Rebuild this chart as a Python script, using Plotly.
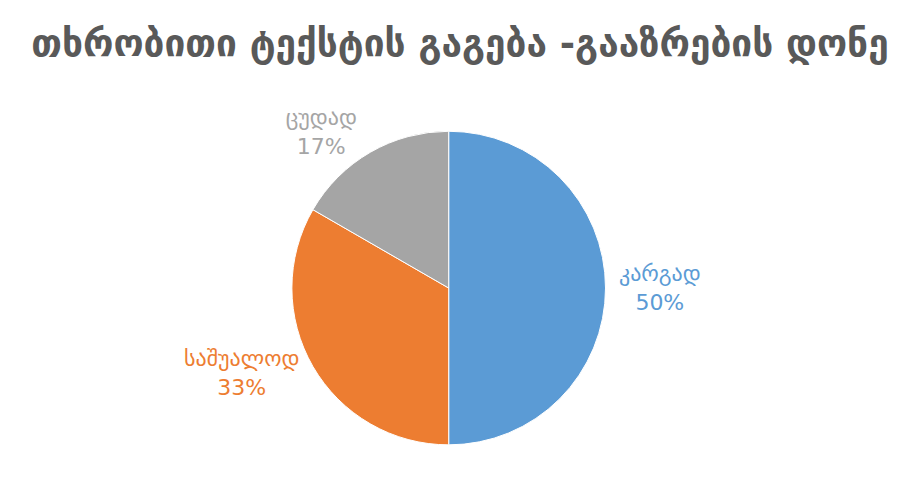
import plotly.graph_objects as go

labels = ["კარგად", "საშუალოდ", "ცუდად"]
values = [3, 2, 1]
colors = ["#5B9BD5", "#ED7D31", "#A5A5A5"]
title_text = "<b>თხრობითი ტექსტის გაგება -გააზრების დონე</b>"

fig = go.Figure(go.Pie(
    labels=labels,
    values=values,
    sort=False,
    direction="clockwise",
    rotation=0,
    marker=dict(colors=colors, line=dict(color="white", width=1)),
    textposition="outside",
    texttemplate="%{label}<br>%{percent:.0%}",
    textfont=dict(family="DejaVu Sans", size=22, color=colors),
    showlegend=False,
    domain=dict(x=[0.314, 0.661], y=[0.121, 0.752]),
))

fig.update_layout(
    width=904, height=497,
    margin=dict(l=0, r=0, t=0, b=0),
    paper_bgcolor="white",
    plot_bgcolor="white",
    title=dict(text=title_text, x=0.5, xanchor="center", y=0.93, yanchor="middle",
               font=dict(family="DejaVu Sans", size=37, color="#595959")),
)

fig.write_html("out.html")
